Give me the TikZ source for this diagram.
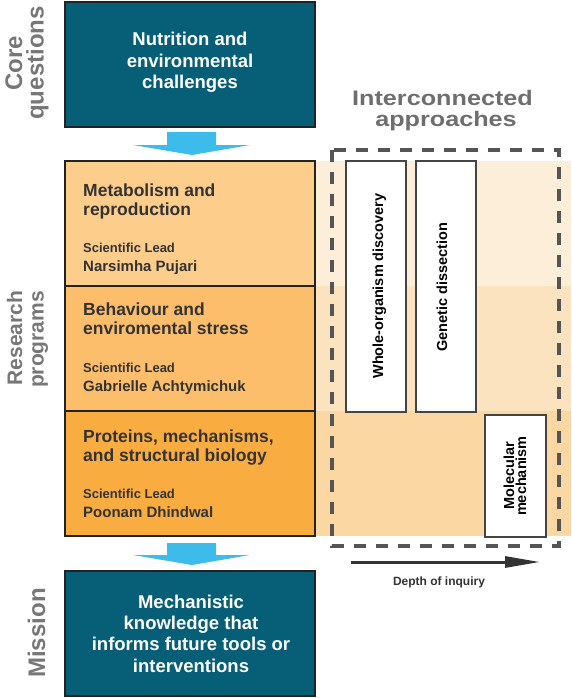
\documentclass[tikz,border=0pt]{standalone}
\usepackage{fontspec}
\setmainfont{Liberation Sans}
\usepackage{graphicx}
\usetikzlibrary{calc,arrows.meta}
\definecolor{cteal}{HTML}{065E77}
\definecolor{cor1}{HTML}{FDCD8C}
\definecolor{cor2}{HTML}{FCBE6A}
\definecolor{cor3}{HTML}{F9AD40}
\definecolor{cband1}{HTML}{FDEEDA}
\definecolor{cband2}{HTML}{FCE3C0}
\definecolor{cband3}{HTML}{FBD8A3}
\definecolor{cblue}{HTML}{3DBCEB}
\definecolor{clabel}{HTML}{777777}
\definecolor{ctitle}{HTML}{6E6E6E}
\definecolor{cdark}{HTML}{333333}
\definecolor{cdash}{HTML}{555555}
\definecolor{cedge}{HTML}{222222}
\definecolor{cwedge}{HTML}{444444}
\begin{document}
\begin{tikzpicture}[x=1pt,y=-1pt,
  bigbox/.style={draw=cedge, line width=2pt, minimum width=250pt, minimum height=125pt, inner sep=0pt},
  hd/.style={font=\bfseries\fontsize{18.5}{21}\selectfont, text=white, anchor=base},
  ptitle/.style={font=\bfseries\fontsize{17.5}{19}\selectfont, text=cdark, anchor=base west, inner sep=0pt},
  slead/.style={font=\bfseries\fontsize{13}{15}\selectfont, text=cdark, anchor=base west, inner sep=0pt},
  pname/.style={font=\bfseries\fontsize{15}{17}\selectfont, text=cdark, anchor=base west, inner sep=0pt},
  sidelab/.style={font=\bfseries\fontsize{#1}{#1}\selectfont, text=clabel, rotate=90, anchor=base, inner sep=0pt},
  wbox/.style={draw=cwedge, line width=1.6pt, fill=white, inner sep=0pt},
  vtext/.style={font=\bfseries\fontsize{14.5}{14.5}\selectfont, text=black, rotate=90, anchor=base, inner sep=0pt},
  bluearrow/.style={fill=cblue},
  apptitle/.style={font=\bfseries\fontsize{21}{21}\selectfont, text=ctitle, anchor=base, inner sep=0pt}
]
\useasboundingbox (0,0) rectangle (571,698);

% background bands
\fill[cband1] (315,161) rectangle (571,286);
\fill[cband2] (315,286) rectangle (571,411);
\fill[cband3] (315,411) rectangle (571,536);

% core question box
\node[bigbox, fill=cteal] (core) at (190,64.5) {};
\node[hd] (core1) at (190,46) {Nutrition and};
\node[hd] (core2) at (190,67.5) {environmental};
\node[hd] (core3) at (190,88.5) {challenges};

% research program boxes
\node[bigbox, fill=cor1] (p1) at (190,223.5) {};
\node[bigbox, fill=cor2] (p2) at (190,348.5) {};
\node[bigbox, fill=cor3] (p3) at (190,473.5) {};

\node[ptitle] (p1a) at (83,196) {Metabolism and};
\node[ptitle] (p1b) at (83,215) {reproduction};
\node[slead] (p1c) at (83,252) {Scientific Lead};
\node[pname] (p1d) at (83,271) {Narsimha Pujari};

\node[ptitle] (p2a) at (83,315) {Behaviour and};
\node[ptitle] (p2b) at (83,334) {enviromental stress};
\node[slead] (p2c) at (83,372) {Scientific Lead};
\node[pname] (p2d) at (83,391) {Gabrielle Achtymichuk};

\node[ptitle] (p3a) at (83,442) {Proteins, mechanisms,};
\node[ptitle] (p3b) at (83,461) {and structural biology};
\node[slead] (p3c) at (83,498) {Scientific Lead};
\node[pname] (p3d) at (83,517) {Poonam Dhindwal};

% mission box
\node[bigbox, fill=cteal] (mis) at (190,633.5) {};
\node[hd] (mis1) at (191,608) {Mechanistic};
\node[hd] (mis2) at (191,629.3) {knowledge that};
\node[hd] (mis3) at (191,650.6) {informs future tools or};
\node[hd] (mis4) at (191,672) {interventions};

% blue arrows
\fill[bluearrow] ($(core.south)+(-23,4)$) -- ++(49,0) -- ++(0,13) -- ++(34,0)
  -- ($(p1.north)+(2,-5)$) -- ($(core.south)+(-57,17)$) -- ++(34,0) -- cycle;
\fill[bluearrow] ($(p3.south)+(-23,6)$) -- ++(49,0) -- ++(0,12) -- ++(34,0)
  -- ($(mis.north)+(2,-5)$) -- ($(p3.south)+(-57,18)$) -- ++(34,0) -- cycle;

% side labels
\node[sidelab=24] (lcore) at (22,63) {Core};
\node[sidelab=24] (lques) at (43.5,63) {questions};
\node[sidelab=21] (lres) at (22,338) {Research};
\node[sidelab=21] (lprog) at (43.5,339.5) {programs};
\node[sidelab=24] (lmis) at (45,633) {Mission};

% interconnected approaches title
\node[apptitle] (t1) at (442.5,106) {\scalebox{1.2}[1]{Interconnected}};
\node[apptitle] (t2) at (446,127) {\scalebox{1.2}[1]{approaches}};

% approach boxes
\node[wbox, minimum width=60pt, minimum height=251pt] (wo) at (376,286.5) {};
\node[wbox, minimum width=60pt, minimum height=251pt] (gd) at (446,286.5) {};
\node[wbox, minimum width=61pt, minimum height=122pt] (mm) at (515.5,476) {};
\node[vtext] (wot) at (383,286) {Whole-organism discovery};
\node[vtext] (gdt) at (447,287) {Genetic dissection};
\node[vtext] (mmt1) at (514,476) {Molecular};
\node[vtext] (mmt2) at (526,476) {mechanism};

% dashed frame
\draw[cdash, line width=4.5pt, dash pattern=on 12pt off 10pt] (332,150) rectangle (559,546);

% depth of inquiry arrow
\coordinate (d0) at (351,562);
\coordinate (d1) at (540,562);
\draw[cdark, line width=3pt, -{Triangle[length=35pt,width=11pt]}] (d0) -- (d1);
\node[font=\bfseries\fontsize{12}{14}\selectfont, text=cdark, anchor=base, inner sep=0pt] (dl) at (439,585.5) {Depth of inquiry};
\end{tikzpicture}
\end{document}
